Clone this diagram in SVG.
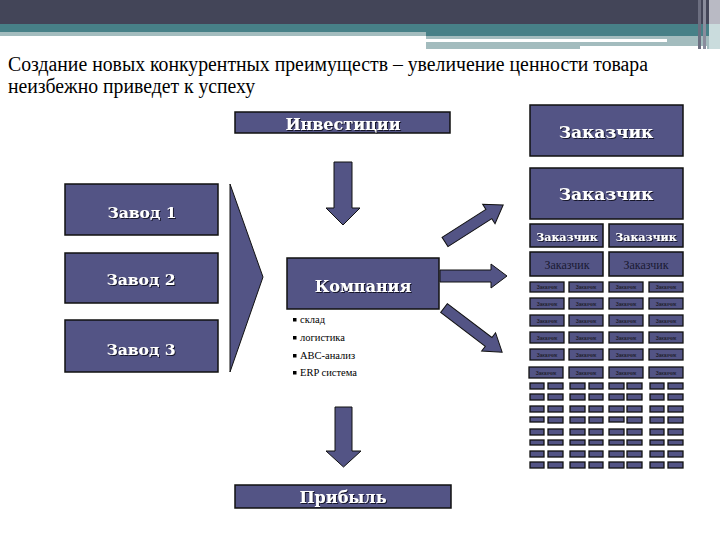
<svg xmlns="http://www.w3.org/2000/svg" width="720" height="540" viewBox="0 0 720 540">
<defs>
<style>
.box{fill:#535485;stroke:#111;stroke-width:1.5}
.sm{fill:#535485;stroke:#111;stroke-width:1.3}
.arr{fill:#535485;stroke:#111;stroke-width:1}
.lbl{font-family:"DejaVu Serif",serif;font-weight:bold;fill:#fff;text-anchor:middle;filter:url(#sh)}
.reg{font-family:"Liberation Serif",serif;fill:#1a1a33;text-anchor:middle}
.tiny{font-family:"Liberation Sans",sans-serif;font-size:5px;fill:#111;text-anchor:middle}
.title{font-family:"Liberation Serif","Times New Roman",serif;font-size:20px;fill:#000}
.bul{font-family:"Liberation Serif",serif;font-size:10.5px;fill:#000}
</style>
<filter id="sh" x="-10%" y="-20%" width="130%" height="150%">
<feDropShadow dx="1" dy="1" stdDeviation="0" flood-color="#15152a"/>
</filter>
</defs>
<rect width="720" height="540" fill="#fff"/>
<g id="header">
<rect x="0" y="0" width="720" height="24" fill="#434558"/>
<rect x="0" y="24" width="720" height="12" fill="#478087"/>
<rect x="0" y="32" width="426" height="4" fill="#a3bcbe"/>
<rect x="426" y="36" width="294" height="13" fill="#a3bcbe"/>
<rect x="426" y="39" width="241" height="3" fill="#fff"/>
<rect x="580" y="46" width="127" height="3" fill="#fff"/>
<rect x="698" y="0" width="3" height="49" fill="#6c6e80"/>
<rect x="703" y="0" width="3" height="49" fill="#8a8c9c"/>
<rect x="709" y="0" width="11" height="24" fill="#b9bac4"/>
<rect x="709" y="24" width="11" height="25" fill="#cadcdd"/>
</g>
<g id="title">
<text class="title" x="8" y="71" textLength="640" lengthAdjust="spacingAndGlyphs">Создание новых конкурентных преимуществ – увеличение ценности товара</text>
<text class="title" x="8" y="93" textLength="247" lengthAdjust="spacingAndGlyphs">неизбежно приведет к успеху</text>
</g>
<g id="connectors">
<polygon class="arr" points="230,184 263,277 230,372"/>
<polygon class="arr" points="334,162 352,162 352,208 360,208 343,225 326,208 334,208"/>
<polygon class="arr" points="335,407 352,407 352,451 361,451 343.5,467 326,451 335,451"/>
<polygon class="arr" points="440,270 491,270 491,264 507,276 491,288 491,282 440,282"/>
<polygon class="arr" transform="translate(445,242) rotate(-32.5)" points="0,-5.5 52,-5.5 52,-11.5 69,0 52,11.5 52,5.5 0,5.5"/>
<polygon class="arr" transform="translate(444,308) rotate(37.2)" points="0,-5.5 56,-5.5 56,-11.5 73,0 56,11.5 56,5.5 0,5.5"/>
</g>
<g id="investicii">
<rect class="box" x="235" y="112" width="215" height="21"/>
<text class="lbl" x="343" y="130" font-size="16">Инвестиции</text>
</g>
<g id="zavod1">
<rect class="box" x="65" y="184" width="153" height="51"/>
<text class="lbl" x="142" y="218" font-size="15.5">Завод 1</text>
</g>
<g id="zavod2">
<rect class="box" x="65" y="253" width="153" height="50"/>
<text class="lbl" x="141" y="285" font-size="15.5">Завод 2</text>
</g>
<g id="zavod3">
<rect class="box" x="65" y="320" width="153" height="52"/>
<text class="lbl" x="141" y="355" font-size="15.5">Завод  3</text>
</g>
<g id="kompaniya">
<rect class="box" x="287" y="258" width="152" height="51"/>
<text class="lbl" x="363" y="292" font-size="16">Компания</text>
<rect x="293" y="318" width="3.5" height="3.5" fill="#000"/>
<text class="bul" x="300" y="323">склад</text>
<rect x="293" y="336" width="3.5" height="3.5" fill="#000"/>
<text class="bul" x="300" y="341">логистика</text>
<rect x="293" y="354" width="3.5" height="3.5" fill="#000"/>
<text class="bul" x="300" y="359">ABC-анализ</text>
<rect x="293" y="371" width="3.5" height="3.5" fill="#000"/>
<text class="bul" x="300" y="376">ERP система</text>
</g>
<g id="pribyl">
<rect class="box" x="235" y="485" width="216" height="23"/>
<text class="lbl" x="343" y="503" font-size="16">Прибыль</text>
</g>
<g id="customer-big-1">
<rect class="box" x="530" y="105" width="153" height="51"/>
<text class="lbl" x="606" y="138" font-size="17">Заказчик</text>
</g>
<g id="customer-big-2">
<rect class="box" x="530" y="168" width="153" height="51"/>
<text class="lbl" x="606" y="200" font-size="17">Заказчик</text>
</g>
<g id="customers-medium">
<rect class="box" x="530" y="224" width="73" height="23"/>
<text class="lbl" x="567" y="241" font-size="11">Заказчик</text>
<rect class="box" x="609" y="224" width="74" height="23"/>
<text class="lbl" x="646" y="241" font-size="11">Заказчик</text>
<rect class="box" x="530" y="252" width="73" height="24"/>
<text class="reg" x="567" y="269" font-size="12">Заказчик</text>
<rect class="box" x="609" y="252" width="74" height="24"/>
<text class="reg" x="646" y="269" font-size="12">Заказчик</text>
</g>
<g id="customers-small">
<rect class="sm" x="530" y="282" width="34" height="10"/><text class="tiny" x="547" y="289">Заказчик</text>
<rect class="sm" x="569" y="282" width="34" height="10"/><text class="tiny" x="586" y="289">Заказчик</text>
<rect class="sm" x="609" y="282" width="34" height="10"/><text class="tiny" x="626" y="289">Заказчик</text>
<rect class="sm" x="649" y="282" width="34" height="10"/><text class="tiny" x="666" y="289">Заказчик</text>
<rect class="sm" x="530" y="298" width="34" height="11"/><text class="tiny" x="547" y="305.5">Заказчик</text>
<rect class="sm" x="569" y="298" width="34" height="11"/><text class="tiny" x="586" y="305.5">Заказчик</text>
<rect class="sm" x="609" y="298" width="34" height="11"/><text class="tiny" x="626" y="305.5">Заказчик</text>
<rect class="sm" x="649" y="298" width="34" height="11"/><text class="tiny" x="666" y="305.5">Заказчик</text>
<rect class="sm" x="530" y="315" width="34" height="11"/><text class="tiny" x="547" y="322.5">Заказчик</text>
<rect class="sm" x="569" y="315" width="34" height="11"/><text class="tiny" x="586" y="322.5">Заказчик</text>
<rect class="sm" x="609" y="315" width="34" height="11"/><text class="tiny" x="626" y="322.5">Заказчик</text>
<rect class="sm" x="649" y="315" width="34" height="11"/><text class="tiny" x="666" y="322.5">Заказчик</text>
<rect class="sm" x="530" y="332" width="34" height="11"/><text class="tiny" x="547" y="339.5">Заказчик</text>
<rect class="sm" x="569" y="332" width="34" height="11"/><text class="tiny" x="586" y="339.5">Заказчик</text>
<rect class="sm" x="609" y="332" width="34" height="11"/><text class="tiny" x="626" y="339.5">Заказчик</text>
<rect class="sm" x="649" y="332" width="34" height="11"/><text class="tiny" x="666" y="339.5">Заказчик</text>
<rect class="sm" x="530" y="349" width="34" height="11"/><text class="tiny" x="547" y="356.5">Заказчик</text>
<rect class="sm" x="569" y="349" width="34" height="11"/><text class="tiny" x="586" y="356.5">Заказчик</text>
<rect class="sm" x="609" y="349" width="34" height="11"/><text class="tiny" x="626" y="356.5">Заказчик</text>
<rect class="sm" x="649" y="349" width="34" height="11"/><text class="tiny" x="666" y="356.5">Заказчик</text>
<rect class="sm" x="529" y="367" width="34" height="11"/><text class="tiny" x="546" y="374.5">Заказчик</text>
<rect class="sm" x="569" y="367" width="34" height="11"/><text class="tiny" x="586" y="374.5">Заказчик</text>
<rect class="sm" x="609" y="367" width="34" height="11"/><text class="tiny" x="626" y="374.5">Заказчик</text>
<rect class="sm" x="649" y="367" width="34" height="11"/><text class="tiny" x="666" y="374.5">Заказчик</text>
</g>
<g id="customers-tiny">
<g id="tiny-row-1" transform="translate(0,383)">
<rect class="sm" x="530" y="0" width="14" height="6"/><rect class="sm" x="548" y="0" width="15" height="6"/><rect class="sm" x="570" y="0" width="15" height="6"/><rect class="sm" x="589" y="0" width="14" height="6"/><rect class="sm" x="609" y="0" width="15" height="6"/><rect class="sm" x="627" y="0" width="15" height="6"/><rect class="sm" x="650" y="0" width="14" height="6"/><rect class="sm" x="668" y="0" width="15" height="6"/>
</g>
<g id="tiny-row-2" transform="translate(0,394)">
<rect class="sm" x="530" y="0" width="14" height="6"/><rect class="sm" x="548" y="0" width="15" height="6"/><rect class="sm" x="570" y="0" width="15" height="6"/><rect class="sm" x="589" y="0" width="14" height="6"/><rect class="sm" x="609" y="0" width="15" height="6"/><rect class="sm" x="627" y="0" width="15" height="6"/><rect class="sm" x="650" y="0" width="14" height="6"/><rect class="sm" x="668" y="0" width="15" height="6"/>
</g>
<g id="tiny-row-3" transform="translate(0,406)">
<rect class="sm" x="530" y="0" width="14" height="6"/><rect class="sm" x="548" y="0" width="15" height="6"/><rect class="sm" x="570" y="0" width="15" height="6"/><rect class="sm" x="589" y="0" width="14" height="6"/><rect class="sm" x="609" y="0" width="15" height="6"/><rect class="sm" x="627" y="0" width="15" height="6"/><rect class="sm" x="650" y="0" width="14" height="6"/><rect class="sm" x="668" y="0" width="15" height="6"/>
</g>
<g id="tiny-row-4" transform="translate(0,417)">
<rect class="sm" x="530" y="0" width="14" height="5"/><rect class="sm" x="548" y="0" width="15" height="6"/><rect class="sm" x="570" y="0" width="15" height="6"/><rect class="sm" x="589" y="0" width="14" height="6"/><rect class="sm" x="609" y="0" width="15" height="5"/><rect class="sm" x="627" y="0" width="15" height="6"/><rect class="sm" x="650" y="0" width="14" height="6"/><rect class="sm" x="668" y="0" width="15" height="6"/>
</g>
<g id="tiny-row-5" transform="translate(0,429)">
<rect class="sm" x="530" y="0" width="14" height="6"/><rect class="sm" x="548" y="0" width="15" height="6"/><rect class="sm" x="570" y="0" width="15" height="6"/><rect class="sm" x="589" y="0" width="14" height="6"/><rect class="sm" x="609" y="0" width="15" height="6"/><rect class="sm" x="627" y="0" width="15" height="6"/><rect class="sm" x="650" y="0" width="14" height="6"/><rect class="sm" x="668" y="0" width="15" height="6"/>
</g>
<g id="tiny-row-6" transform="translate(0,440)">
<rect class="sm" x="530" y="0" width="14" height="5"/><rect class="sm" x="548" y="0" width="15" height="5"/><rect class="sm" x="570" y="0" width="15" height="5"/><rect class="sm" x="589" y="0" width="14" height="5"/><rect class="sm" x="609" y="0" width="15" height="5"/><rect class="sm" x="627" y="0" width="15" height="5"/><rect class="sm" x="650" y="0" width="14" height="5"/><rect class="sm" x="668" y="0" width="15" height="5"/>
</g>
<g id="tiny-row-7" transform="translate(0,451)">
<rect class="sm" x="530" y="0" width="14" height="6"/><rect class="sm" x="548" y="0" width="15" height="6"/><rect class="sm" x="570" y="0" width="15" height="6"/><rect class="sm" x="589" y="0" width="14" height="6"/><rect class="sm" x="609" y="0" width="15" height="6"/><rect class="sm" x="627" y="0" width="15" height="6"/><rect class="sm" x="650" y="0" width="14" height="6"/><rect class="sm" x="668" y="0" width="15" height="6"/>
</g>
<g id="tiny-row-8" transform="translate(0,462)">
<rect class="sm" x="530" y="0" width="14" height="6"/><rect class="sm" x="548" y="0" width="15" height="6"/><rect class="sm" x="570" y="0" width="15" height="6"/><rect class="sm" x="589" y="0" width="14" height="6"/><rect class="sm" x="609" y="0" width="15" height="6"/><rect class="sm" x="627" y="0" width="15" height="6"/><rect class="sm" x="650" y="0" width="14" height="6"/><rect class="sm" x="668" y="0" width="15" height="6"/>
</g>
</g>
</svg>
